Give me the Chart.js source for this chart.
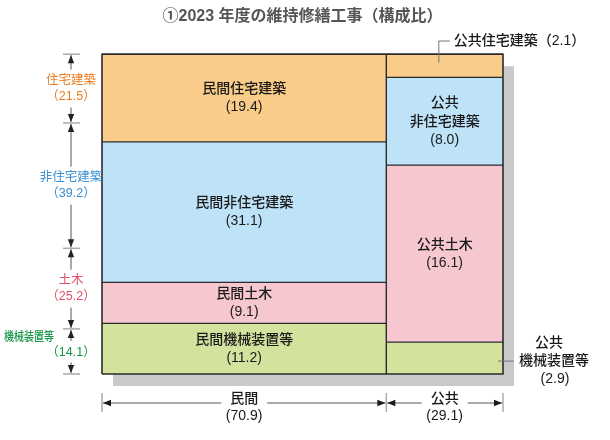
<!DOCTYPE html>
<html><head><meta charset="utf-8">
<script src="https://cdn.jsdelivr.net/npm/chart.js@4.4.1/dist/chart.umd.min.js"></script>
<style>html,body{margin:0;padding:0;background:#fff;overflow:hidden}</style>
</head><body>
<canvas id="c" width="610" height="440"></canvas>
<script>
const titleText = '①2023 年度の維持修繕工事（構成比）';
const categories = ['住宅建築', '非住宅建築', '土木', '機械装置等'];
const sectors = ['民間', '公共'];
const sectorTotals = [70.9, 29.1];
const privateValues = [19.4, 31.1, 9.1, 11.2];
const publicValues = [2.1, 8.0, 16.1, 2.9];
const categoryTotals = [21.5, 39.2, 25.2, 14.1];

const fillColors = ['#F9CC8A', '#BEE3F8', '#F6C7CF', '#D3E29C'];
const textColors = ['#EF7D1F', '#3A8FD5', '#E2506B', '#139645'];
const FONT = '"Liberation Sans","Noto Sans CJK JP",sans-serif';
const EDGE = '#2b2b2b';

const sectorValues = [privateValues, publicValues];
const rects = [];
let xCum = 0;
sectorValues.forEach((vals, s) => {
  const sum = vals.reduce((a, b) => a + b, 0);
  let top = 100;
  vals.forEach((v, c) => {
    const h = v / sum * 100;
    rects.push({ s, c, v, x0: xCum, x1: xCum + sectorTotals[s], y1: top, y0: top - h });
    top -= h;
  });
  xCum += sectorTotals[s];
});

const datasets = [
  { label: 'outline', data: [{x:0,y:0},{x:0,y:100},{x:100,y:100},{x:100,y:0},{x:0,y:0}],
    borderColor: EDGE, borderWidth: 1.6, fill: false, pointRadius: 0, clip: false, borderJoinStyle: 'miter' },
  { label: 'divider', data: [{x:sectorTotals[0],y:0},{x:sectorTotals[0],y:100}],
    borderColor: EDGE, borderWidth: 1.4, fill: false, pointRadius: 0, clip: false },
  ...rects.map(r => ({
    label: sectors[r.s] + categories[r.c],
    data: [{x:r.x0,y:r.y1},{x:r.x1,y:r.y1}],
    fill: { value: r.y0 }, backgroundColor: fillColors[r.c],
    borderColor: EDGE, borderWidth: 1.2, pointRadius: 0, clip: false
  }))
];

function arrow(ctx, x, y, dir) {
  const L = 8, W = 3.2;
  ctx.beginPath();
  if (dir === 'up') { ctx.moveTo(x, y); ctx.lineTo(x - W, y + L); ctx.lineTo(x + W, y + L); }
  if (dir === 'down') { ctx.moveTo(x, y); ctx.lineTo(x - W, y - L); ctx.lineTo(x + W, y - L); }
  if (dir === 'left') { ctx.moveTo(x, y); ctx.lineTo(x + L, y - W); ctx.lineTo(x + L, y + W); }
  if (dir === 'right') { ctx.moveTo(x, y); ctx.lineTo(x - L, y - W); ctx.lineTo(x - L, y + W); }
  ctx.closePath(); ctx.fill();
}
function line(ctx, x1, y1, x2, y2) { ctx.beginPath(); ctx.moveTo(x1, y1); ctx.lineTo(x2, y2); ctx.stroke(); }

const shadowPlugin = {
  id: 'shadow',
  beforeDraw(chart) {
    const { ctx, chartArea: a } = chart;
    ctx.save(); ctx.fillStyle = '#C9C9C9';
    ctx.fillRect(a.left + 11, a.top + 12, a.right - a.left, a.bottom - a.top);
    ctx.restore();
  }
};

const annotatePlugin = {
  id: 'annotate',
  afterDraw(chart) {
    const { ctx } = chart;
    const xs = chart.scales.x, ys = chart.scales.y;
    ctx.save();
    ctx.textAlign = 'center'; ctx.textBaseline = 'middle';
    // labels inside boxes
    ctx.font = '500 14px ' + FONT; ctx.fillStyle = '#1a1a1a';
    rects.forEach(r => {
      const cx = (xs.getPixelForValue(r.x0) + xs.getPixelForValue(r.x1)) / 2;
      const cy = (ys.getPixelForValue(r.y0) + ys.getPixelForValue(r.y1)) / 2;
      const val = '(' + r.v.toFixed(1) + ')';
      if (r.s === 0) {
        ctx.fillText(sectors[0] + categories[r.c], cx, cy - 9);
        ctx.fillText(val, cx, cy + 9);
      } else if (r.c === 1) {
        ctx.fillText(sectors[1], cx, cy - 18);
        ctx.fillText(categories[r.c], cx, cy + 1);
        ctx.fillText(val, cx, cy + 19);
      } else if (r.c === 2) {
        ctx.fillText(sectors[1] + categories[r.c], cx, cy - 9);
        ctx.fillText(val, cx, cy + 9);
      } else if (r.c === 0) {
        const lx = xs.getPixelForValue(r.x0 + (r.x1 - r.x0) * 0.45);
        ctx.strokeStyle = '#777'; ctx.lineWidth = 1;
        ctx.beginPath(); ctx.moveTo(lx, cy - 3); ctx.lineTo(lx, 41); ctx.lineTo(lx + 11, 41); ctx.stroke();
        ctx.textAlign = 'left';
        ctx.fillText(sectors[1] + categories[r.c] + '（' + r.v.toFixed(1) + '）', lx + 15, 41);
        ctx.textAlign = 'center';
      } else {
        const rx = xs.getPixelForValue(r.x1);
        const yc = cy + 3;
        ctx.strokeStyle = '#777'; ctx.lineWidth = 1;
        line(ctx, rx - 5, yc, rx + 11, yc);
        ctx.fillText(sectors[1], rx + 46, yc - 18);
        ctx.fillText(categories[r.c], rx + 51, yc);
        ctx.fillText(val, rx + 52, yc + 18);
      }
    });
    // left dimension
    const ax = 71;
    let cum = 100;
    const ticks = [ys.getPixelForValue(100)];
    categoryTotals.forEach(v => { cum -= v; ticks.push(ys.getPixelForValue(Math.max(cum, 0))); });
    ctx.strokeStyle = '#AAAAAA'; ctx.lineWidth = 1.5;
    ticks.forEach(t => line(ctx, 63, t, 80, t));
    ctx.strokeStyle = '#555'; ctx.lineWidth = 1; ctx.fillStyle = '#222';
    categoryTotals.forEach((v, i) => {
      const yA = ticks[i] + 1, yB = ticks[i + 1] - 1;
      const mid = (yA + yB) / 2;
      let g1, g2;
      ctx.font = '12.5px ' + FONT;
      ctx.fillStyle = textColors[i];
      if (i < categoryTotals.length - 1) {
        ctx.fillText(categories[i], ax, mid - 8);
        ctx.fillText('（' + v.toFixed(1) + '）', ax, mid + 8);
        g1 = mid - 19; g2 = mid + 19;
      } else {
        ctx.font = '500 12.5px ' + FONT;
        ctx.fillText(categories[i], 29, yA + 8, 50);
        ctx.font = '12.5px ' + FONT;
        ctx.fillText('（' + v.toFixed(1) + '）', ax, mid + 1.5);
        g1 = yA + 11; g2 = mid + 11;
      }
      ctx.fillStyle = '#222';
      line(ctx, ax, yA, ax, g1); line(ctx, ax, g2, ax, yB);
      arrow(ctx, ax, yA, 'up'); arrow(ctx, ax, yB, 'down');
    });
    // bottom dimension
    const by = 403;
    const xt = [xs.getPixelForValue(0), xs.getPixelForValue(sectorTotals[0]), xs.getPixelForValue(100)];
    ctx.strokeStyle = '#AAAAAA'; ctx.lineWidth = 1.5;
    xt.forEach(x => line(ctx, x, 393, x, 412));
    ctx.strokeStyle = '#555'; ctx.lineWidth = 1; ctx.fillStyle = '#1a1a1a';
    ctx.font = '500 14px ' + FONT;
    sectors.forEach((s, i) => {
      const xA = xt[i] + 1, xB = xt[i + 1] - 1, mid = (xA + xB) / 2;
      line(ctx, xA, by, mid - 23, by); line(ctx, mid + 23, by, xB, by);
      arrow(ctx, xA, by, 'left'); arrow(ctx, xB, by, 'right');
      ctx.fillText(s, mid, 399);
      ctx.fillText('(' + sectorTotals[i].toFixed(1) + ')', mid, 416);
    });
    ctx.restore();
  }
};

new Chart(document.getElementById('c'), {
  type: 'line',
  data: { datasets },
  options: {
    responsive: false, animation: false, events: [],
    layout: { padding: { left: 102, right: 107, top: 0, bottom: 66 } },
    scales: {
      x: { type: 'linear', min: 0, max: 100, display: false },
      y: { type: 'linear', min: 0, max: 100, display: false }
    },
    plugins: {
      legend: { display: false }, tooltip: { enabled: false },
      filler: { drawTime: 'beforeDatasetsDraw' },
      title: { display: true, text: titleText, color: '#555',
        font: { family: FONT, size: 16, weight: 'bold' }, padding: { top: 7, bottom: 28 } }
    }
  },
  plugins: [shadowPlugin, annotatePlugin]
});
</script>
</body></html>
